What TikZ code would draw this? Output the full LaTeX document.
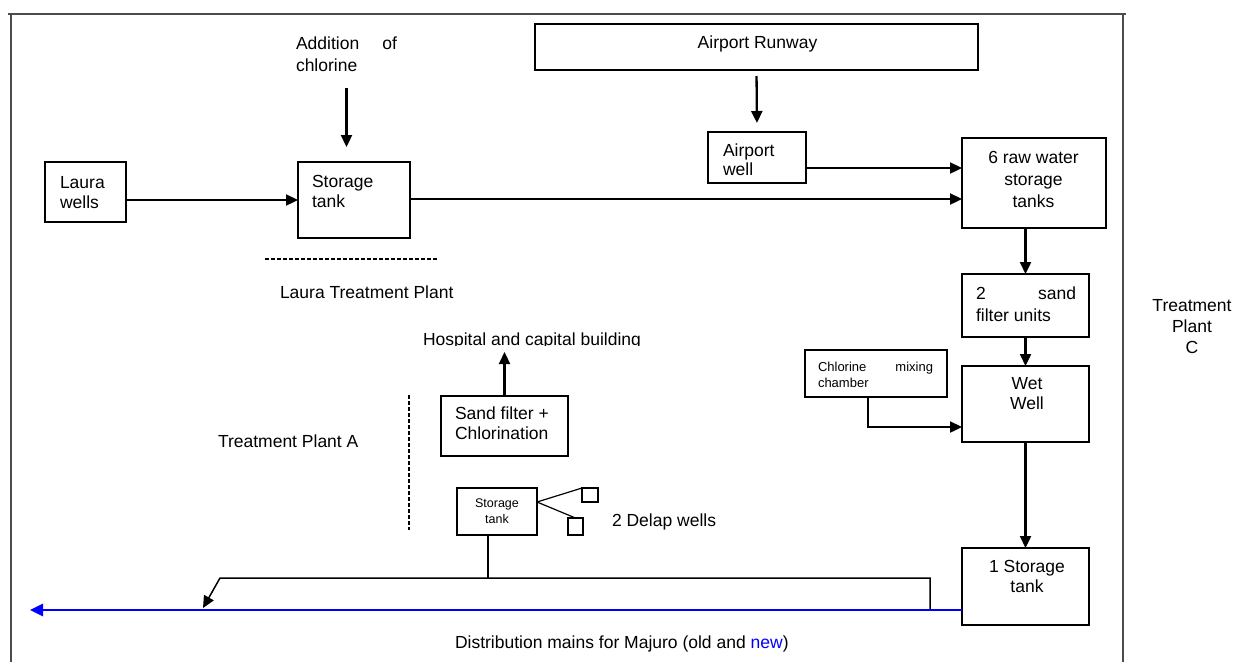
\documentclass[tikz,border=0pt]{standalone}
\usepackage{fontspec}
\setmainfont{Liberation Sans}
\usetikzlibrary{arrows.meta}
\begin{document}
\begin{tikzpicture}[x=1pt,y=-1pt,
  every node/.style={inner sep=0pt, outer sep=0pt},
  box/.style={draw=black, line width=1.7pt, rectangle},
  txt/.style={font=\fontsize{17.5}{21}\selectfont, align=left, anchor=base west},
  ctxt/.style={font=\fontsize{17.5}{21}\selectfont, align=center, anchor=base},
  flow/.style={draw=black, line width=2.3pt, -{Triangle[length=12pt,width=11pt]}},
  pipe/.style={draw=black, line width=1.5pt},
  frameline/.style={draw=black!70, line width=2.2pt},
  dashline/.style={draw=black, line width=2.2pt, dash pattern=on 4pt off 2pt}]
\useasboundingbox (0,0) rectangle (1241,662);

% frame
\draw[frameline] (8,14) -- (1126,14);
\draw[frameline] (11,14) -- (11,662);
\draw[frameline] (1123,14) -- (1123,662);

% boxes
\node[box, minimum width=81pt, minimum height=60pt] (lw) at (85.5,192) {};
\node[box, minimum width=112pt, minimum height=76pt] (st) at (354,200) {};
\node[box, minimum width=443pt, minimum height=46pt] (rw) at (756.5,47) {};
\node[box, minimum width=98pt, minimum height=51pt] (aw) at (757,157.5) {};
\node[box, minimum width=144pt, minimum height=90pt] (raw) at (1034,183) {};
\node[box, minimum width=127pt, minimum height=63pt] (sf) at (1025.5,305.5) {};
\node[box, minimum width=142pt, minimum height=47pt] (cm) at (876,373.5) {};
\node[box, minimum width=127pt, minimum height=76pt] (ww) at (1025.5,404) {};
\node[box, minimum width=127pt, minimum height=77pt] (st1) at (1025.5,586.5) {};
\node[box, minimum width=127pt, minimum height=60pt] (sfc) at (504.5,426) {};
\node[box, minimum width=80pt, minimum height=47pt] (stk) at (497,511.5) {};
\node[box, line width=1.4pt, minimum width=16pt, minimum height=14pt] (sq1) at (590,495) {};
\node[box, line width=1.4pt, minimum width=15pt, minimum height=17pt] (sq2) at (575.5,526.5) {};

% texts (base anchor = baseline of the last line)
\node[txt, font=\fontsize{17.5}{22}\selectfont] (add) at (296,71) {\makebox[101pt][s]{Addition of}\\chlorine};
\node[txt, font=\fontsize{17.5}{20}\selectfont] (lwt) at (60,208) {Laura\\wells};
\node[txt, font=\fontsize{17.5}{20}\selectfont] (stt) at (312,207) {Storage\\tank};
\node[ctxt] (rwt) at (757.5,48) {Airport Runway};
\node[txt, font=\fontsize{17.5}{19}\selectfont] (awt) at (723,175) {Airport\\well};
\node[ctxt, font=\fontsize{17.5}{22}\selectfont] (rawt) at (1033.5,207) {6 raw water\\storage\\tanks};
\node[txt, font=\fontsize{17.5}{22}\selectfont] (sft) at (976,321) {\makebox[100pt][s]{2 sand}\\filter units};
\node[txt, font=\fontsize{13}{16}\selectfont] (cmt) at (818,387) {\makebox[115pt][s]{Chlorine mixing}\\chamber};
\node[ctxt, font=\fontsize{17.5}{20}\selectfont] (wwt) at (1027,409) {Wet\\Well};
\node[ctxt, font=\fontsize{17.5}{20}\selectfont] (st1t) at (1027,592) {1 Storage\\tank};
\node[ctxt] (tpc) at (1192,353) {Treatment\\Plant\\C};
\node[txt] (ltp) at (280,298) {Laura Treatment Plant};
\begin{scope}
\clip (415,320) rectangle (680,345.6);
\node[txt] (hosp) at (423,345) {Hospital and capital building};
\end{scope}
\node[txt, font=\fontsize{17.5}{20}\selectfont] (sfct) at (455,439) {Sand filter +\\Chlorination};
\node[txt] (tpa) at (218,447) {Treatment Plant A};
\node[ctxt, font=\fontsize{12.5}{16}\selectfont] (stkt) at (497,523) {Storage\\tank};
\node[txt] (dw) at (612,526) {2 Delap wells};
\node[txt] (dm) at (455,648) {Distribution mains for Majuro (old and \textcolor{blue}{new})};

% dashed boundaries
\draw[dashline] (265,259) -- (438,259);
\draw[dashline] (409,395) -- (409,530);

% flows
\draw[flow, shorten <=17pt, shorten >=15pt] (add.south -| 346.5,0) -- (346.5,0 |- st.north);
\draw[flow] (lw.east |- st.west) -- (st.west);
\draw[flow, shorten <=6pt, shorten >=9pt] (rw.south) -- (aw.north);
\draw[flow] (aw.east |- 0,168) -- (raw.west |- 0,168);
\draw[flow] (st.east |- 0,199) -- (raw.west |- 0,199);
\draw[flow] (raw.south -| sf.north) -- (sf.north);
\draw[flow] (sf.south) -- (ww.north);
\draw[flow] (cm.south -| 868,0) |- (ww.west |- 0,427);
\draw[flow] (ww.south) -- (st1.north);
\draw[flow] (sfc.north) -- (sfc.north |- 0,352);

% Delap wells
\draw[line width=1.2pt] (stk.east |- 0,502) -- (sq1.north west);
\draw[line width=1.2pt] (stk.east |- 0,502) -- (sq2.north);

% pipes
\coordinate (tee) at (488,578);
\coordinate (jr) at (930,610);
\coordinate (mainend) at (30,610);
\draw[pipe] (stk.south -| tee) -- (tee);
\draw[pipe, -{Triangle[length=12pt,width=11pt]}] (jr) -- (930,578) -- (220,578) -- (203,608);
\draw[blue, line width=2.7pt, -{Triangle[length=13pt,width=12pt]}] (st1.west |- mainend) -- (mainend);
\end{tikzpicture}
\end{document}
